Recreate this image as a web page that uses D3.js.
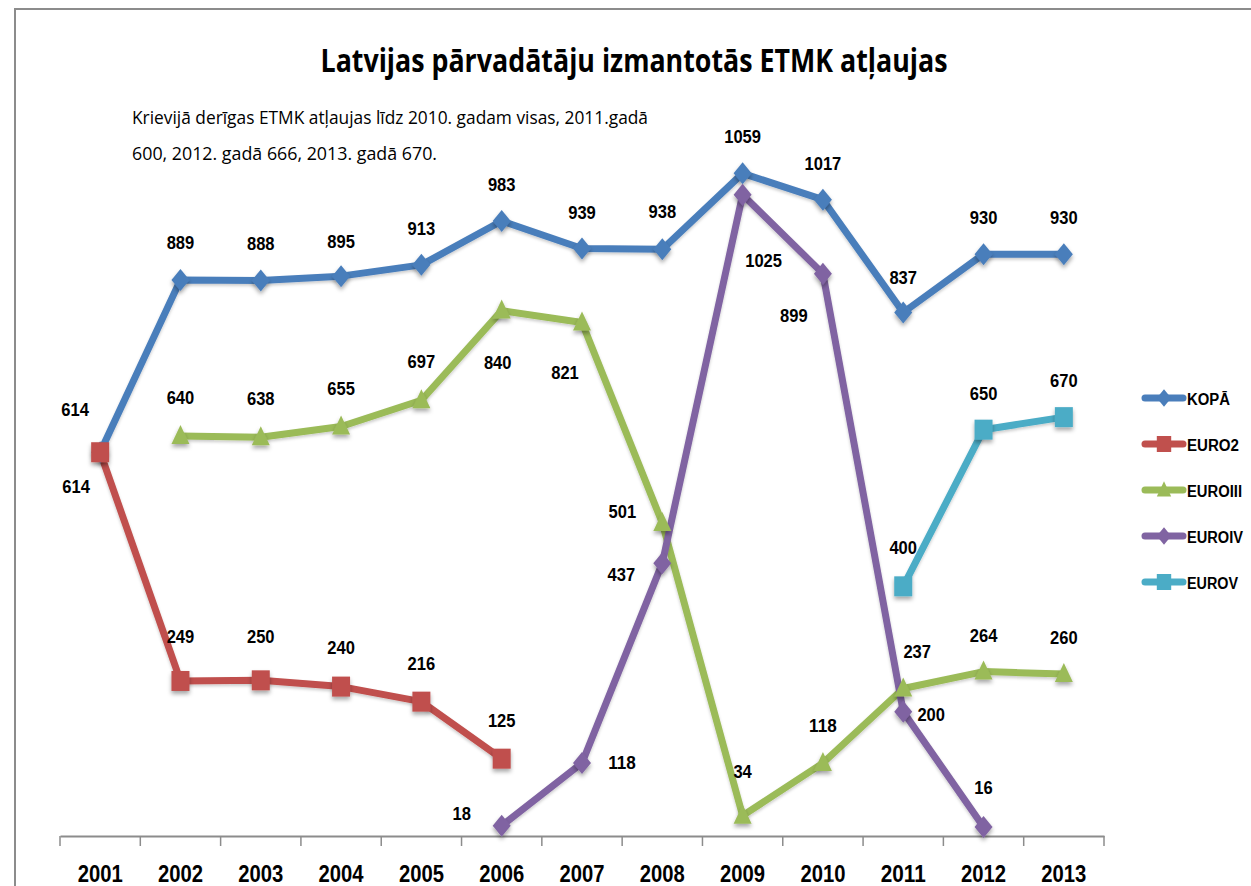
<!DOCTYPE html>
<html>
<head>
<meta charset="utf-8">
<script src="https://cdn.jsdelivr.net/npm/d3@7"></script>
<style>
  body { margin: 0; background: #fff; }
  svg { display: block; }
  .lbl { font-family: "Liberation Sans", Arial, sans-serif; font-weight: bold; font-size: 18px; fill: #000; }
</style>
</head>
<body>
<script>
// categories and series
var years = ["2001","2002","2003","2004","2005","2006","2007","2008","2009","2010","2011","2012","2013"];
var kopa    = [614, 889, 888, 895, 913, 983, 939, 938, 1059, 1017, 837, 930, 930];
var euro2   = [614, 249, 250, 240, 216, 125, null, null, null, null, null, null, null];
var euroIII = [null, 640, 638, 655, 697, 840, 821, 501, 34, 118, 237, 264, 260];
var euroIV  = [null, null, null, null, null, 18, 118, 437, 1025, 899, 200, 16, null];
var euroV   = [null, null, null, null, null, null, null, null, null, null, 400, 650, 670];

var seriesNames = ["KOPĀ", "EURO2", "EUROIII", "EUROIV", "EUROV"];
var seriesValues = [kopa, euro2, euroIII, euroIV, euroV];
var seriesColors = ["#4a7ebb", "#c0504d", "#9bbb59", "#8064a2", "#4bacc6"];
var seriesShapes = ["diamond", "square", "triangle", "diamond", "square"];

// label offsets [dx, dy] from the point, per series per year
var labelOffsets = [
  [[-25,-42],[0,-37],[0,-37],[0,-34],[0,-36],[0,-36],[0,-36],[0,-37],[0,-36],[0,-36],[0,-34],[0,-36],[0,-36]],
  [[-24,35],[0,-44],[0,-43],[0,-39],[0,-38],[0,-38]],
  [null,[0,-38],[0,-38],[0,-38],[0,-38],[-4,52],[-17,50],[-40,-11],[0,-44],[0,-37],[14,-36],[0,-36],[0,-36]],
  [null,null,null,null,null,[-40,-12],[40,0],[-41,12],[21,66],[-29,42],[28,3],[0,-39]],
  [null,null,null,null,null,null,null,null,null,null,[0,-38],[0,-36],[0,-36]]
];

var title = "Latvijas pārvadātāju izmantotās ETMK atļaujas";
var note = ["Krievijā derīgas ETMK atļaujas līdz 2010. gadam visas, 2011.gadā",
            "600, 2012. gadā 666, 2013. gadā 670."];

var width = 1251, height = 886;

var svg = d3.select("body").append("svg")
  .attr("width", width)
  .attr("height", height);

var defs = svg.append("defs");
var f = defs.append("filter").attr("id", "shadow")
  .attr("x", "-50%").attr("y", "-50%").attr("width", "200%").attr("height", "200%");
f.append("feDropShadow").attr("dx", 0).attr("dy", 3).attr("stdDeviation", 2)
  .attr("flood-color", "#000").attr("flood-opacity", 0.35);
var fl = defs.append("filter").attr("id", "lshadow")
  .attr("x", "-10%").attr("y", "-10%").attr("width", "120%").attr("height", "120%");
fl.append("feDropShadow").attr("dx", 0).attr("dy", 2).attr("stdDeviation", 1.5)
  .attr("flood-color", "#000").attr("flood-opacity", 0.2);

// chart border
svg.append("rect")
  .attr("x", 15).attr("y", 9)
  .attr("width", 1260).attr("height", 900)
  .attr("fill", "none").attr("stroke", "#8c8c8c").attr("stroke-width", 2);

// title
svg.append("text")
  .attr("x", 634).attr("y", 72)
  .attr("text-anchor", "middle")
  .attr("textLength", 627).attr("lengthAdjust", "spacingAndGlyphs")
  .style("font-family", "'Open Sans', 'Liberation Sans', sans-serif")
  .style("font-weight", "bold").style("font-size", "32px")
  .text(title);

// note
svg.selectAll(".note").data(note).enter().append("text")
  .attr("class", "note")
  .attr("x", 132)
  .attr("y", function(d, i){ return 124 + i * 36; })
  .attr("textLength", function(d, i){ return i == 0 ? 516 : 305; })
  .attr("lengthAdjust", "spacingAndGlyphs")
  .style("font-family", "'Open Sans', 'Liberation Sans', sans-serif")
  .style("font-size", "19px")
  .text(function(d){ return d; });

// scales
var x = d3.scaleBand().domain(years).range([60, 1104]).padding(0);
var y = d3.scaleLinear().domain([0, 1200]).range([837, 85]);
var cx = function(yr){ return x(yr) + x.bandwidth() / 2; };

// x axis
var xAxis = d3.axisBottom(x).tickSize(0).tickPadding(29);
var gx = svg.append("g").attr("transform", "translate(0,836)").call(xAxis);
gx.select(".domain").attr("stroke", "#8c8c8c").attr("stroke-width", 2);
gx.selectAll("text")
  .style("font-family", "'Liberation Sans', Arial, sans-serif")
  .style("font-weight", "bold").style("font-size", "24px").attr("fill", "#000")
  .attr("textLength", 45).attr("lengthAdjust", "spacingAndGlyphs");
gx.selectAll(".bound").data(d3.range(years.length + 1)).enter().append("line")
  .attr("class", "bound")
  .attr("x1", function(i){ return x.range()[0] + i * x.bandwidth(); })
  .attr("x2", function(i){ return x.range()[0] + i * x.bandwidth(); })
  .attr("y1", 0).attr("y2", 10)
  .attr("stroke", "#8c8c8c").attr("stroke-width", 1.5);

function markerPath(shape){
  if (shape == "diamond") return "M0,-11L9,0L0,11L-9,0Z";
  if (shape == "square") return "M-9,-10H9V10H-9Z";
  return "M0,-11L9,8H-9Z";
}

var line = d3.line()
  .defined(function(d){ return d.v != null; })
  .x(function(d){ return cx(d.yr); })
  .y(function(d){ return y(d.v); });

var plot = svg.append("g");

seriesValues.forEach(function(vals, s){
  var pts = vals.map(function(v, i){ return {yr: years[i], v: v, i: i}; });
  plot.append("path")
    .datum(pts)
    .attr("d", line)
    .attr("fill", "none")
    .attr("stroke", seriesColors[s])
    .attr("stroke-width", 7)
    .attr("stroke-linejoin", "round")
    .attr("filter", "url(#lshadow)");
});

seriesValues.forEach(function(vals, s){
  var pts = vals.map(function(v, i){ return {yr: years[i], v: v, i: i}; })
    .filter(function(d){ return d.v != null; });
  plot.selectAll(".m" + s).data(pts).enter().append("path")
    .attr("class", "m" + s)
    .attr("transform", function(d){ return "translate(" + cx(d.yr) + "," + y(d.v) + ")"; })
    .attr("d", markerPath(seriesShapes[s]))
    .attr("fill", seriesColors[s])
    .attr("filter", "url(#shadow)");
});

seriesValues.forEach(function(vals, s){
  var pts = vals.map(function(v, i){ return {yr: years[i], v: v, i: i}; })
    .filter(function(d){ return d.v != null; });
  svg.selectAll(".l" + s).data(pts).enter().append("text")
    .attr("class", "lbl")
    .attr("text-anchor", "middle")
    .attr("dominant-baseline", "central")
    .attr("x", function(d){ return cx(d.yr) + labelOffsets[s][d.i][0]; })
    .attr("y", function(d){ return y(d.v) + labelOffsets[s][d.i][1]; })
    .attr("textLength", function(d){ return String(d.v).length * 9.2; })
    .attr("lengthAdjust", "spacingAndGlyphs")
    .text(function(d){ return d.v; });
});

// legend
var legendWidths = [43, 52, 55, 56, 51];
var legend = svg.append("g").attr("transform", "translate(1145,398)");
seriesNames.forEach(function(name, s){
  var g = legend.append("g").attr("transform", "translate(0," + (s * 46) + ")");
  g.append("line").attr("x1", 0).attr("x2", 38).attr("y1", 0).attr("y2", 0)
    .attr("stroke", seriesColors[s]).attr("stroke-width", 7).attr("stroke-linecap", "round");
  g.append("path").attr("transform", "translate(19,0) scale(0.8)")
    .attr("d", markerPath(seriesShapes[s])).attr("fill", seriesColors[s]);
  g.append("text").attr("x", 42).attr("y", 1)
    .attr("dominant-baseline", "central")
    .attr("class", "lbl").style("font-size", "16px")
    .attr("textLength", legendWidths[s]).attr("lengthAdjust", "spacingAndGlyphs")
    .text(name);
});
</script>
</body>
</html>
